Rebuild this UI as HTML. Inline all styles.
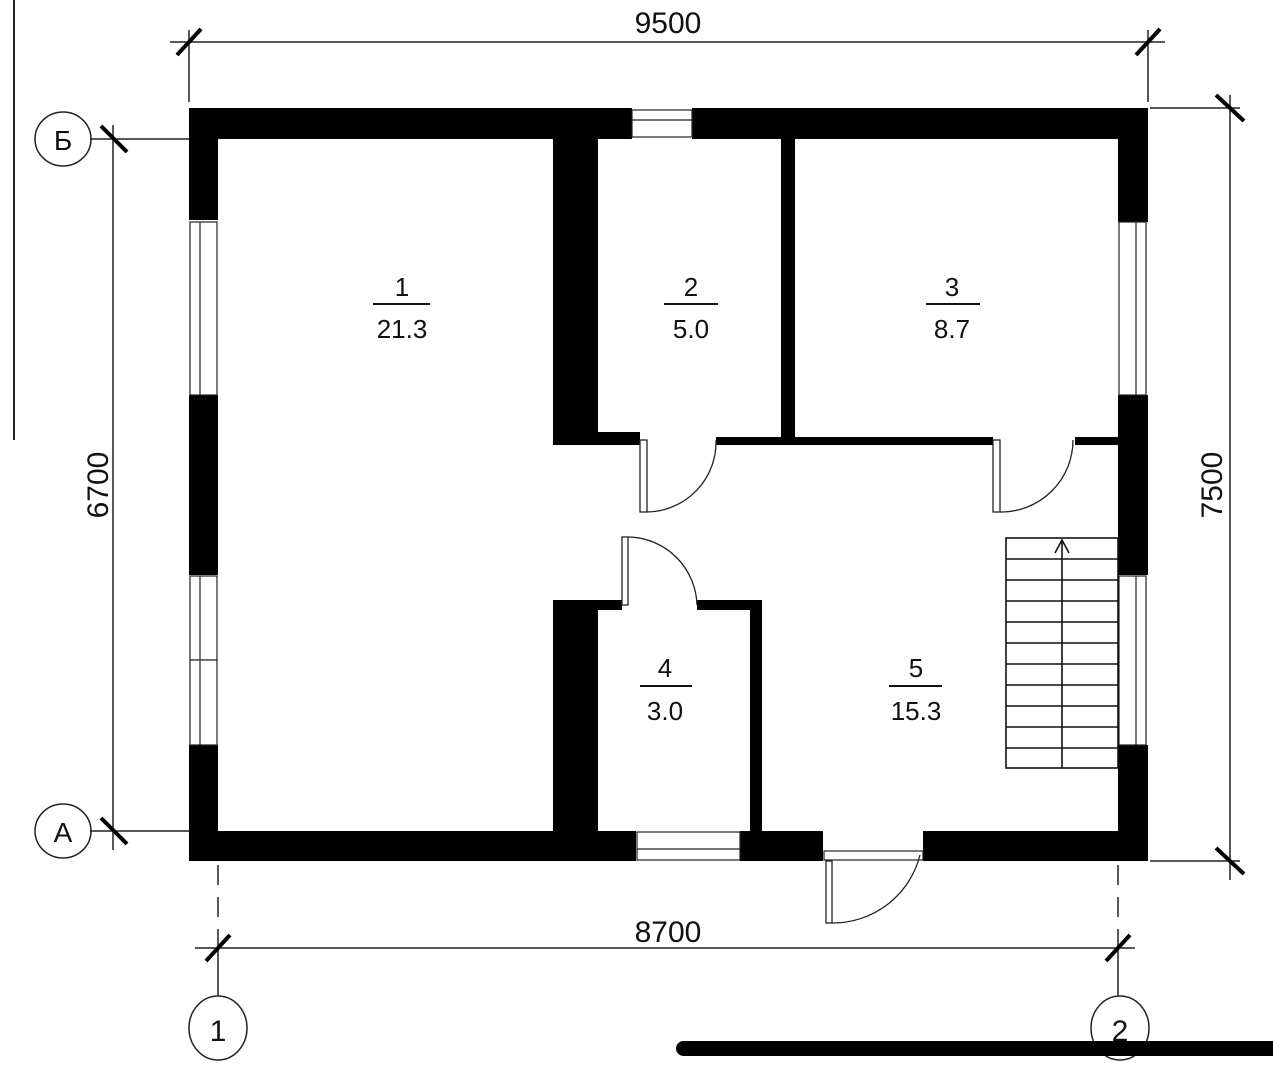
<!DOCTYPE html>
<html><head><meta charset="utf-8"><style>
html,body{margin:0;padding:0;background:#fff;}
svg{display:block;}
text{font-family:"Liberation Sans",sans-serif;fill:#111;}
</style></head><body>
<svg width="1273" height="1080" viewBox="0 0 1273 1080" xmlns="http://www.w3.org/2000/svg">
<line x1="14" y1="0" x2="14" y2="440" stroke="#222" stroke-width="2"/>
<g stroke="#222" stroke-width="1.5" fill="none">
<line x1="170" y1="42" x2="1165" y2="42"/>
<line x1="189" y1="30" x2="189" y2="102"/>
<line x1="1148" y1="30" x2="1148" y2="102"/>
<line x1="1150" y1="108" x2="1240" y2="108"/>
<line x1="1150" y1="861" x2="1240" y2="861"/>
<line x1="1230" y1="95" x2="1230" y2="880"/>
<line x1="113" y1="125" x2="113" y2="850"/>
<line x1="90" y1="139" x2="189" y2="139"/>
<line x1="90" y1="831" x2="189" y2="831"/>
<line x1="195" y1="948" x2="1135" y2="948"/>
<line x1="218" y1="865" x2="218" y2="940" stroke-dasharray="20,12"/>
<line x1="218" y1="940" x2="218" y2="996"/>
<line x1="1118" y1="865" x2="1118" y2="940" stroke-dasharray="20,12"/>
<line x1="1118" y1="940" x2="1118" y2="996"/>
<ellipse cx="63" cy="139" rx="28" ry="27"/>
<ellipse cx="63" cy="831" rx="28" ry="27"/>
<ellipse cx="218" cy="1028" rx="29" ry="32"/>
<ellipse cx="1120" cy="1028" rx="29" ry="32"/>
</g>
<g stroke="#000" stroke-width="4">
<line x1="177" y1="55" x2="201" y2="29"/>
<line x1="1136" y1="55" x2="1160" y2="29"/>
<line x1="1216" y1="95" x2="1244" y2="121"/>
<line x1="1216" y1="848" x2="1244" y2="874"/>
<line x1="101" y1="126" x2="127" y2="152"/>
<line x1="101" y1="818" x2="127" y2="844"/>
<line x1="206" y1="961" x2="230" y2="935"/>
<line x1="1106" y1="961" x2="1130" y2="935"/>
</g>
<text x="668" y="33" font-size="30" text-anchor="middle">9500</text>
<text x="668" y="942" font-size="30" text-anchor="middle">8700</text>
<text transform="translate(108,485) rotate(-90)" font-size="30" text-anchor="middle">6700</text>
<text transform="translate(1222,485) rotate(-90)" font-size="30" text-anchor="middle">7500</text>
<text x="63" y="150" font-size="28" text-anchor="middle">Б</text>
<text x="63" y="842" font-size="28" text-anchor="middle">А</text>
<text x="218" y="1041" font-size="30" text-anchor="middle">1</text>
<text x="1120" y="1041" font-size="30" text-anchor="middle">2</text>
<g fill="#000">
<rect x="189" y="108" width="443" height="31"/>
<rect x="692" y="108" width="456" height="31"/>
<rect x="189" y="108" width="29" height="112"/>
<rect x="189" y="395" width="29" height="180"/>
<rect x="189" y="745" width="29" height="116"/>
<rect x="189" y="831" width="447" height="30"/>
<rect x="740" y="831" width="83" height="30"/>
<rect x="923" y="831" width="225" height="30"/>
<rect x="1118" y="108" width="30" height="114"/>
<rect x="1118" y="395" width="30" height="180"/>
<rect x="1118" y="745" width="30" height="116"/>
<rect x="553" y="139" width="45" height="306"/>
<rect x="553" y="432" width="87" height="13"/>
<rect x="781" y="139" width="14" height="300"/>
<rect x="716" y="437" width="277" height="8"/>
<rect x="1075" y="437" width="43" height="8"/>
<rect x="553" y="600" width="45" height="231"/>
<rect x="553" y="600" width="69" height="10"/>
<rect x="697" y="600" width="65" height="10"/>
<rect x="750" y="600" width="12" height="231"/>
</g>
<g stroke="#222" stroke-width="1.2" fill="#fff">
<rect x="632" y="110" width="60" height="27"/><line x1="632" y1="120" x2="692" y2="120"/>
<rect x="190" y="222" width="27" height="173"/><line x1="200" y1="222" x2="200" y2="395"/>
<rect x="190" y="576" width="27" height="84"/><rect x="190" y="660" width="27" height="85"/><line x1="200" y1="576" x2="200" y2="745"/>
<rect x="1119" y="222" width="27" height="173"/><line x1="1136" y1="222" x2="1136" y2="395"/>
<rect x="1119" y="576" width="27" height="169"/><line x1="1136" y1="576" x2="1136" y2="745"/>
<rect x="637" y="832" width="103" height="28"/><line x1="637" y1="849" x2="740" y2="849"/>
<rect x="824" y="851" width="99" height="9"/>
</g>
<g stroke="#222" stroke-width="1.3" fill="none">
<rect x="640" y="440" width="7" height="72" fill="#fff"/>
<path d="M647 512 A70 70 0 0 0 716 440"/>
<rect x="993" y="440" width="7" height="72" fill="#fff"/>
<path d="M1000 512 A72 72 0 0 0 1073 440"/>
<rect x="622" y="537" width="6" height="68" fill="#fff"/>
<path d="M628 537 A70 70 0 0 1 697 605"/>
<rect x="826" y="861" width="6" height="62" fill="#fff"/>
<path d="M832 923 A90 90 0 0 0 920 855"/>
</g>
<g stroke="#111" stroke-width="1.6" fill="none">
<rect x="1006" y="538" width="112" height="230"/>
<line x1="1062" y1="540" x2="1062" y2="768"/>
<path d="M1055 553 L1062 540 L1069 553"/>
</g>
<g stroke="#111" stroke-width="1.6">
<line x1="1006" y1="559" x2="1118" y2="559"/>
<line x1="1006" y1="580" x2="1118" y2="580"/>
<line x1="1006" y1="601" x2="1118" y2="601"/>
<line x1="1006" y1="622" x2="1118" y2="622"/>
<line x1="1006" y1="643" x2="1118" y2="643"/>
<line x1="1006" y1="664" x2="1118" y2="664"/>
<line x1="1006" y1="685" x2="1118" y2="685"/>
<line x1="1006" y1="706" x2="1118" y2="706"/>
<line x1="1006" y1="727" x2="1118" y2="727"/>
<line x1="1006" y1="748" x2="1118" y2="748"/>
</g>
<g font-size="26" text-anchor="middle">
<text x="402" y="296">1</text><text x="402" y="338">21.3</text>
<text x="691" y="296">2</text><text x="691" y="338">5.0</text>
<text x="952" y="296">3</text><text x="952" y="338">8.7</text>
<text x="665" y="677">4</text><text x="665" y="720">3.0</text>
<text x="916" y="677">5</text><text x="916" y="720">15.3</text>
</g>
<g stroke="#111" stroke-width="2">
<line x1="373" y1="304" x2="430" y2="304"/>
<line x1="664" y1="304" x2="718" y2="304"/>
<line x1="926" y1="304" x2="980" y2="304"/>
<line x1="640" y1="686" x2="692" y2="686"/>
<line x1="889" y1="686" x2="942" y2="686"/>
</g>
<rect x="676" y="1041" width="610" height="15" rx="7.5" fill="#000"/>
</svg>
</body></html>
